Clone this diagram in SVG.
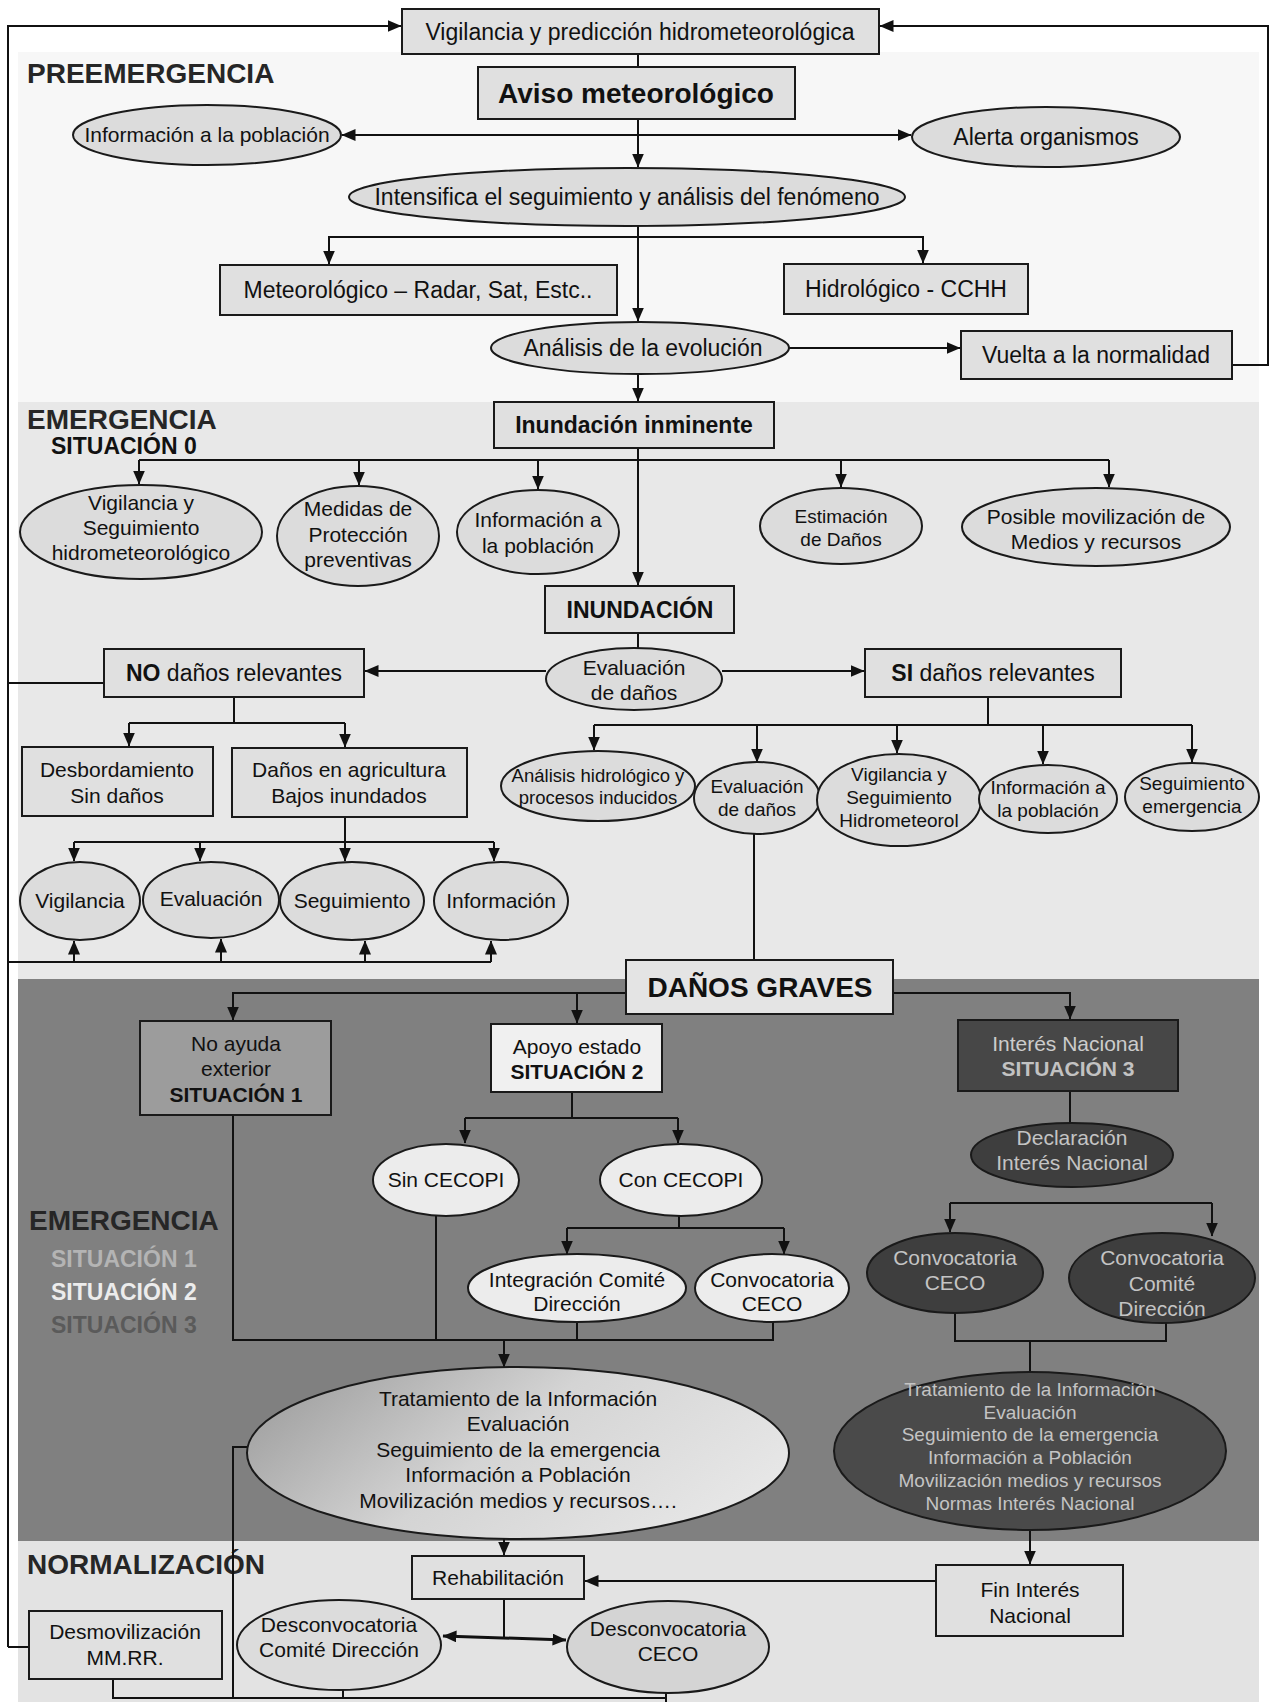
<svg xmlns="http://www.w3.org/2000/svg" width="1271" height="1702" viewBox="0 0 1271 1702">
<style>
.box{fill:#e0e0e0;stroke:#1a1a1a;stroke-width:2}
.ell{fill:#dcdcdc;stroke:#1a1a1a;stroke-width:2}
.dk{fill:#3e3e3e;stroke:#1a1a1a;stroke-width:2}
text{font-family:"Liberation Sans",Arial,sans-serif;font-size:21px;text-anchor:middle;fill:#111}
.t23{font-size:23px}
.t19{font-size:19px}
.t18{font-size:18.5px}
.b{font-weight:bold}
.h{font-size:28px;font-weight:bold;text-anchor:start;fill:#262626}
.s{font-size:23px;font-weight:bold;text-anchor:start}
.lt{fill:#c4c4c4}
</style>
<defs>
<marker id="ah" markerUnits="userSpaceOnUse" markerWidth="14" markerHeight="12" refX="13.5" refY="6" orient="auto-start-reverse"><path d="M0,0 L14,6 L0,12 z" fill="#111"/></marker>
<linearGradient id="gl" x1="0" y1="0.3" x2="1" y2="0.7"><stop offset="0" stop-color="#a2a2a2"/><stop offset="0.45" stop-color="#d4d4d4"/><stop offset="1" stop-color="#e8e8e8"/></linearGradient>
</defs>
<rect width="1271" height="1702" fill="#ffffff"/>
<g id="bands">
<rect x="18" y="52" width="1241" height="350" fill="#f7f7f7"/>
<rect x="18" y="402" width="1241" height="577" fill="#e8e8e8"/>
<rect x="18" y="979" width="1241" height="562" fill="#808080"/>
<rect x="18" y="1541" width="1241" height="161" fill="#e3e3e3"/>
</g>
<g id="labels">
<text class="h" x="27" y="83">PREEMERGENCIA</text>
<text class="h" x="27" y="429">EMERGENCIA</text>
<text class="s" x="51" y="454" fill="#262626">SITUACIÓN 0</text>
<text class="h" x="29" y="1230">EMERGENCIA</text>
<text class="s" x="51" y="1267" style="fill:#b4b4b4">SITUACIÓN 1</text>
<text class="s" x="51" y="1300" style="fill:#ececec">SITUACIÓN 2</text>
<text class="s" x="51" y="1333" style="fill:#5a5a5a">SITUACIÓN 3</text>
<text class="h" x="27" y="1574">NORMALIZACIÓN</text>
</g>
<g id="connectors" fill="none" stroke="#111" stroke-width="2">
<path d="M8,1647 V26 H401" marker-end="url(#ah)"/>
<path d="M29,1647 H8"/>
<path d="M104,683 H8"/>
<path d="M8,962 H491"/>
<path d="M1232,365 H1268 V26 H880" marker-end="url(#ah)"/>
<path d="M638,54 V67"/>
<path d="M638,119 V167" marker-end="url(#ah)"/>
<path d="M638,135 H342" marker-end="url(#ah)"/>
<path d="M638,135 H911" marker-end="url(#ah)"/>
<path d="M638,226 V321" marker-end="url(#ah)"/>
<path d="M638,237 H329 V264" marker-end="url(#ah)"/>
<path d="M638,237 H923 V263" marker-end="url(#ah)"/>
<path d="M789,348 H960" marker-end="url(#ah)"/>
<path d="M638,374 V401" marker-end="url(#ah)"/>
<path d="M638,448 V585" marker-end="url(#ah)"/>
<path d="M139,460 H1109"/>
<path d="M139,460 V484" marker-end="url(#ah)"/>
<path d="M359,460 V485" marker-end="url(#ah)"/>
<path d="M538,460 V489" marker-end="url(#ah)"/>
<path d="M841,460 V487" marker-end="url(#ah)"/>
<path d="M1109,460 V487" marker-end="url(#ah)"/>
<path d="M638,633 V648"/>
<path d="M546,671 H365" marker-end="url(#ah)"/>
<path d="M722,671 H864" marker-end="url(#ah)"/>
<path d="M234,697 V723 M129,723 H345"/>
<path d="M129,723 V746" marker-end="url(#ah)"/>
<path d="M345,723 V747" marker-end="url(#ah)"/>
<path d="M345,817 V842 M74,842 H494"/>
<path d="M74,842 V861" marker-end="url(#ah)"/>
<path d="M200,842 V861" marker-end="url(#ah)"/>
<path d="M345,842 V861" marker-end="url(#ah)"/>
<path d="M494,842 V861" marker-end="url(#ah)"/>
<path d="M74,962 V941" marker-end="url(#ah)"/>
<path d="M221,962 V939" marker-end="url(#ah)"/>
<path d="M365,962 V941" marker-end="url(#ah)"/>
<path d="M491,962 V941" marker-end="url(#ah)"/>
<path d="M988,697 V725 M594,725 H1192"/>
<path d="M594,725 V750" marker-end="url(#ah)"/>
<path d="M757,725 V762" marker-end="url(#ah)"/>
<path d="M897,725 V753" marker-end="url(#ah)"/>
<path d="M1043,725 V764" marker-end="url(#ah)"/>
<path d="M1192,725 V762" marker-end="url(#ah)"/>
<path d="M754,834 V960"/>
<path d="M626,993 H233 V1020" marker-end="url(#ah)"/>
<path d="M577,993 V1023" marker-end="url(#ah)"/>
<path d="M893,993 H1070 V1019" marker-end="url(#ah)"/>
<path d="M572,1092 V1118 M465,1118 H678"/>
<path d="M465,1118 V1143" marker-end="url(#ah)"/>
<path d="M678,1118 V1143" marker-end="url(#ah)"/>
<path d="M679,1216 V1228 M567,1228 H784"/>
<path d="M567,1228 V1254" marker-end="url(#ah)"/>
<path d="M784,1228 V1254" marker-end="url(#ah)"/>
<path d="M233,1115 V1340 H773 V1322 M436,1216 V1340 M577,1322 V1340"/>
<path d="M504,1340 V1367" marker-end="url(#ah)"/>
<path d="M247,1447 H233 V1698"/>
<path d="M1070,1091 V1123"/>
<path d="M950,1203 H1212"/>
<path d="M950,1203 V1232" marker-end="url(#ah)"/>
<path d="M1212,1203 V1236" marker-end="url(#ah)"/>
<path d="M955,1313 V1341 H1166 V1323 M1030,1341 V1372"/>
<path d="M1030,1530 V1564" marker-end="url(#ah)"/>
<path d="M936,1581 H585" marker-end="url(#ah)"/>
<path d="M504,1539 V1555" marker-end="url(#ah)"/>
<path d="M504,1599 V1637"/>
<path d="M443,1636 L566,1640" stroke-width="3" marker-start="url(#ah)" marker-end="url(#ah)"/>
<path d="M113,1679 V1698 H666 M343,1690 V1698 M666,1693 V1702"/>
</g>
<g id="n-vigpred"><rect class="box" x="402" y="9" width="477" height="45"/><text class="t23" x="640" y="40">Vigilancia y predicción hidrometeorológica</text></g>
<g id="n-aviso"><rect class="box" x="478" y="67" width="317" height="52"/><text class="b" style="font-size:28px" x="636" y="103">Aviso meteorológico</text></g>
<g id="n-infopob"><ellipse class="ell" cx="207" cy="135" rx="134" ry="30"/><text x="207" y="142">Información a la población</text></g>
<g id="n-alerta"><ellipse class="ell" cx="1046" cy="137" rx="134" ry="30"/><text class="t23" x="1046" y="145">Alerta organismos</text></g>
<g id="n-intensifica"><ellipse class="ell" cx="627" cy="197" rx="278" ry="29"/><text class="t23" x="627" y="205">Intensifica el seguimiento y análisis del fenómeno</text></g>
<g id="n-meteo"><rect class="box" x="220" y="265" width="397" height="50"/><text class="t23" x="418" y="298">Meteorológico – Radar, Sat, Estc..</text></g>
<g id="n-hidro"><rect class="box" x="784" y="264" width="244" height="50"/><text class="t23" x="906" y="297">Hidrológico - CCHH</text></g>
<g id="n-analisis"><ellipse class="ell" cx="640" cy="348" rx="149" ry="26"/><text class="t23" x="643" y="356">Análisis de la evolución</text></g>
<g id="n-vuelta"><rect class="box" x="961" y="331" width="271" height="48"/><text class="t23" x="1096" y="363">Vuelta a la normalidad</text></g>
<g id="n-inminente"><rect class="box" x="494" y="402" width="280" height="46"/><text class="t23 b" x="634" y="433">Inundación inminente</text></g>
<g id="n-vigseg"><ellipse class="ell" cx="141" cy="532" rx="121" ry="47"/><text x="141" y="510">Vigilancia y</text><text x="141" y="535">Seguimiento</text><text x="141" y="560">hidrometeorológico</text></g>
<g id="n-medidas"><ellipse class="ell" cx="358" cy="536" rx="81" ry="50"/><text x="358" y="516">Medidas de</text><text x="358" y="542">Protección</text><text x="358" y="567">preventivas</text></g>
<g id="n-infopob2"><ellipse class="ell" cx="538" cy="532" rx="81" ry="42"/><text x="538" y="527">Información a</text><text x="538" y="553">la población</text></g>
<g id="n-estimacion"><ellipse class="ell" cx="841" cy="526" rx="81" ry="38"/><text class="t19" x="841" y="523">Estimación</text><text class="t19" x="841" y="546">de Daños</text></g>
<g id="n-posible"><ellipse class="ell" cx="1096" cy="527" rx="134" ry="39"/><text x="1096" y="524">Posible movilización de</text><text x="1096" y="549">Medios y recursos</text></g>
<g id="n-inundacion"><rect class="box" x="545" y="586" width="189" height="47"/><text class="t23 b" x="640" y="618">INUNDACIÓN</text></g>
<g id="n-evaldanos"><ellipse class="ell" cx="634" cy="679" rx="88" ry="31"/><text x="634" y="675">Evaluación</text><text x="634" y="700">de daños</text></g>
<g id="n-no"><rect class="box" x="104" y="649" width="260" height="48"/><text class="t23" x="234" y="681"><tspan font-weight="bold">NO</tspan> daños relevantes</text></g>
<g id="n-si"><rect class="box" x="865" y="649" width="256" height="48"/><text class="t23" x="993" y="681"><tspan font-weight="bold">SI</tspan> daños relevantes</text></g>
<g id="n-desbord"><rect class="box" x="22" y="747" width="191" height="69"/><text x="117" y="777">Desbordamiento</text><text x="117" y="803">Sin daños</text></g>
<g id="n-danosagri"><rect class="box" x="232" y="748" width="235" height="69"/><text x="349" y="777">Daños en agricultura</text><text x="349" y="803">Bajos inundados</text></g>
<g id="n-vigilancia"><ellipse class="ell" cx="80" cy="901" rx="60" ry="39"/><text x="80" y="908">Vigilancia</text></g>
<g id="n-evaluacion"><ellipse class="ell" cx="211" cy="900" rx="68" ry="38"/><text x="211" y="906">Evaluación</text></g>
<g id="n-seguimiento"><ellipse class="ell" cx="352" cy="901" rx="72" ry="39"/><text x="352" y="908">Seguimiento</text></g>
<g id="n-informacion"><ellipse class="ell" cx="501" cy="901" rx="67" ry="39"/><text x="501" y="908">Información</text></g>
<g id="n-analhidro"><ellipse class="ell" cx="598" cy="786" rx="97" ry="35"/><text class="t18" x="598" y="782">Análisis hidrológico y</text><text class="t18" x="598" y="804">procesos inducidos</text></g>
<g id="n-evaldanos2"><ellipse class="ell" cx="757" cy="798" rx="63" ry="36"/><text class="t19" x="757" y="793">Evaluación</text><text class="t19" x="757" y="816">de daños</text></g>
<g id="n-vigseg2"><ellipse class="ell" cx="899" cy="800" rx="82" ry="46"/><text class="t19" x="899" y="781">Vigilancia y</text><text class="t19" x="899" y="804">Seguimiento</text><text class="t19" x="899" y="827">Hidrometeorol</text></g>
<g id="n-infopob3"><ellipse class="ell" cx="1048" cy="799" rx="69" ry="34"/><text class="t19" x="1048" y="794">Información a</text><text class="t19" x="1048" y="817">la población</text></g>
<g id="n-segemerg"><ellipse class="ell" cx="1192" cy="797" rx="67" ry="34"/><text class="t19" x="1192" y="790">Seguimiento</text><text class="t19" x="1192" y="813">emergencia</text></g>
<g id="n-graves"><rect class="box" x="626" y="960" width="267" height="54" style="fill:#e4e4e4"/><text class="b" style="font-size:28px" x="760" y="997">DAÑOS GRAVES</text></g>
<g id="n-noayuda"><rect class="box" x="140" y="1021" width="191" height="94" style="fill:#9c9c9c"/><text x="236" y="1051">No ayuda</text><text x="236" y="1076">exterior</text><text class="b" x="236" y="1102">SITUACIÓN 1</text></g>
<g id="n-apoyo"><rect class="box" x="491" y="1024" width="171" height="68" style="fill:#f0f0f0"/><text x="577" y="1054">Apoyo estado</text><text class="b" x="577" y="1079">SITUACIÓN 2</text></g>
<g id="n-interes"><rect class="box" x="958" y="1020" width="220" height="71" style="fill:#474747"/><text x="1068" y="1051" style="fill:#cccccc">Interés Nacional</text><text class="b" x="1068" y="1076" style="fill:#c2c2c2">SITUACIÓN 3</text></g>
<g id="n-sincecopi"><ellipse class="ell" cx="446" cy="1180" rx="73" ry="36" style="fill:#ececec"/><text x="446" y="1187">Sin CECOPI</text></g>
<g id="n-concecopi"><ellipse class="ell" cx="681" cy="1180" rx="81" ry="36" style="fill:#ececec"/><text x="681" y="1187">Con CECOPI</text></g>
<g id="n-integracion"><ellipse class="ell" cx="577" cy="1288" rx="109" ry="34" style="fill:#ececec"/><text x="577" y="1287">Integración Comité</text><text x="577" y="1311">Dirección</text></g>
<g id="n-convceco"><ellipse class="ell" cx="772" cy="1288" rx="77" ry="34" style="fill:#ececec"/><text x="772" y="1287">Convocatoria</text><text x="772" y="1311">CECO</text></g>
<g id="n-declaracion"><ellipse class="dk" cx="1072" cy="1155" rx="101" ry="32"/><text class="lt" x="1072" y="1145">Declaración</text><text class="lt" x="1072" y="1170">Interés Nacional</text></g>
<g id="n-convcecod"><ellipse class="dk" cx="955" cy="1273" rx="88" ry="40"/><text class="lt" x="955" y="1265">Convocatoria</text><text class="lt" x="955" y="1290">CECO</text></g>
<g id="n-convcomite"><ellipse class="dk" cx="1162" cy="1278" rx="93" ry="45"/><text class="lt" x="1162" y="1265">Convocatoria</text><text class="lt" x="1162" y="1291">Comité</text><text class="lt" x="1162" y="1316">Dirección</text></g>
<g id="n-tratamiento"><ellipse cx="518" cy="1453" rx="271" ry="86" fill="url(#gl)" stroke="#1a1a1a" stroke-width="2"/><text x="518" y="1406">Tratamiento de la Información</text><text x="518" y="1431">Evaluación</text><text x="518" y="1457">Seguimiento de la emergencia</text><text x="518" y="1482">Información a Población</text><text x="518" y="1508">Movilización medios y recursos….</text></g>
<g id="n-tratamiento3"><ellipse cx="1030" cy="1451" rx="196" ry="79" fill="#4a4a4a" stroke="#1a1a1a" stroke-width="2"/><text class="t19 lt" x="1030" y="1396">Tratamiento de la Información</text><text class="t19 lt" x="1030" y="1419">Evaluación</text><text class="t19 lt" x="1030" y="1441">Seguimiento de la emergencia</text><text class="t19 lt" x="1030" y="1464">Información a Población</text><text class="t19 lt" x="1030" y="1487">Movilización medios y recursos</text><text class="t19 lt" x="1030" y="1510">Normas Interés Nacional</text></g>
<g id="n-rehab"><rect class="box" x="412" y="1556" width="172" height="43"/><text x="498" y="1585">Rehabilitación</text></g>
<g id="n-fin"><rect class="box" x="936" y="1565" width="187" height="71"/><text x="1030" y="1597">Fin Interés</text><text x="1030" y="1623">Nacional</text></g>
<g id="n-desmov"><rect class="box" x="29" y="1611" width="193" height="68"/><text x="125" y="1639">Desmovilización</text><text x="125" y="1665">MM.RR.</text></g>
<g id="n-desconvcomite"><ellipse class="ell" cx="339" cy="1645" rx="102" ry="45"/><text x="339" y="1632">Desconvocatoria</text><text x="339" y="1657">Comité Dirección</text></g>
<g id="n-desconvceco"><ellipse class="ell" cx="668" cy="1647" rx="101" ry="46" style="fill:#d4d4d4"/><text x="668" y="1636">Desconvocatoria</text><text x="668" y="1661">CECO</text></g>
</svg>
